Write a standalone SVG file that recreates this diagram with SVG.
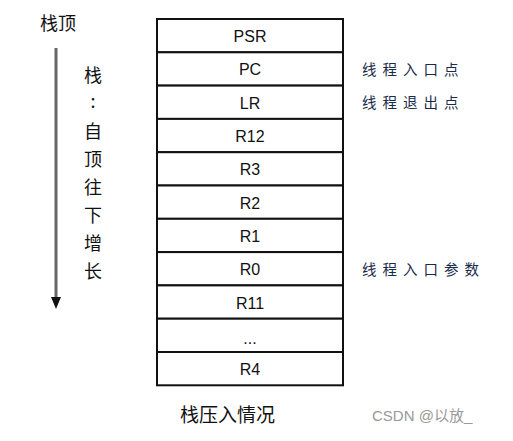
<svg xmlns="http://www.w3.org/2000/svg" width="513" height="441" viewBox="0 0 513 441">
<style>
.cell{fill:#fff;stroke:#111;stroke-width:2}
.reg{font-family:"Liberation Sans",Arial,sans-serif;font-size:16px;fill:#111;text-anchor:middle}
.cn{font-family:"Noto Sans CJK SC",sans-serif;fill:#111}
.note{font-family:"Noto Sans CJK SC",sans-serif;font-size:14.5px;fill:#1a2a4a;letter-spacing:6px}
</style>
<rect x="0" y="0" width="513" height="441" fill="#fff"/>
<text class="cn" x="40" y="30" font-size="18">栈顶</text>
<g id="connectors">
<line x1="56" y1="48" x2="56" y2="297" stroke="#666" stroke-width="3"/>
<path d="M51,297 L61,297 L56,309 Z" fill="#111"/>
</g>
<g id="vlabel" class="cn" font-size="18" text-anchor="middle">
<text x="93" y="82">栈</text>
<text x="93" y="108">:</text>
<text x="93" y="138">自</text>
<text x="93" y="166">顶</text>
<text x="93" y="194">往</text>
<text x="93" y="222">下</text>
<text x="93" y="250">增</text>
<text x="93" y="278">长</text>
</g>
<g id="stack">
<g id="n-psr"><rect class="cell" x="157" y="19" width="186" height="33.3"/><text class="reg" x="250" y="42">PSR</text></g>
<g id="n-pc"><rect class="cell" x="157" y="52.3" width="186" height="33.3"/><text class="reg" x="250" y="75">PC</text></g>
<g id="n-lr"><rect class="cell" x="157" y="85.6" width="186" height="33.3"/><text class="reg" x="250" y="109">LR</text></g>
<g id="n-r12"><rect class="cell" x="157" y="118.9" width="186" height="33.3"/><text class="reg" x="250" y="142">R12</text></g>
<g id="n-r3"><rect class="cell" x="157" y="152.2" width="186" height="33.3"/><text class="reg" x="250" y="175">R3</text></g>
<g id="n-r2"><rect class="cell" x="157" y="185.5" width="186" height="33.3"/><text class="reg" x="250" y="209">R2</text></g>
<g id="n-r1"><rect class="cell" x="157" y="218.8" width="186" height="33.3"/><text class="reg" x="250" y="242">R1</text></g>
<g id="n-r0"><rect class="cell" x="157" y="252.1" width="186" height="33.3"/><text class="reg" x="250" y="275">R0</text></g>
<g id="n-r11"><rect class="cell" x="157" y="285.4" width="186" height="33.3"/><text class="reg" x="250" y="309">R11</text></g>
<g id="n-dots"><rect class="cell" x="157" y="318.7" width="186" height="33.3"/><text class="reg" x="250" y="344">...</text></g>
<g id="n-r4"><rect class="cell" x="157" y="352" width="186" height="33.3"/><text class="reg" x="250" y="375">R4</text></g>
</g>
<g id="notes">
<text class="note" x="362" y="75">线程入口点</text>
<text class="note" x="362" y="108">线程退出点</text>
<text class="note" x="362" y="275">线程入口参数</text>
</g>
<text class="cn" x="180" y="422" font-size="19">栈压入情况</text>
<text x="372" y="421" font-family="'Liberation Sans','Noto Sans CJK SC',sans-serif" font-size="15" fill="#999">CSDN @以放_</text>
</svg>
